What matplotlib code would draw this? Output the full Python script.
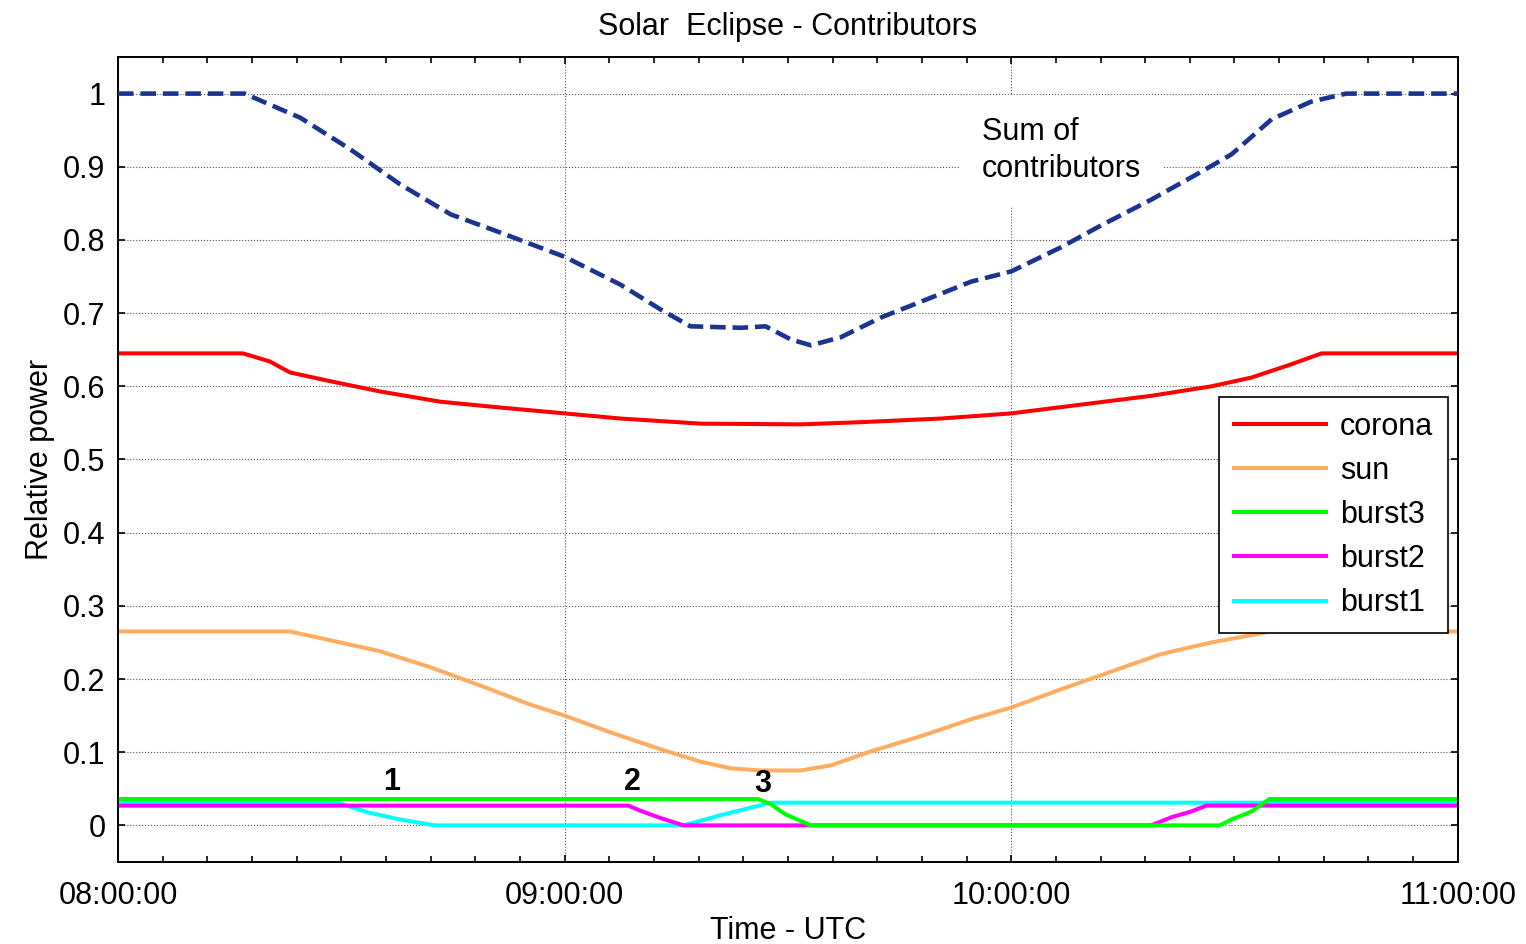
import matplotlib
matplotlib.use("Agg")
import matplotlib.pyplot as plt
from matplotlib.ticker import MultipleLocator

plt.rcParams['font.family'] = ['Liberation Sans', 'DejaVu Sans']

# time in minutes after 08:00 UTC
sum_t = [0, 17, 24.5, 31.2, 37.9, 44.7, 51.4, 60, 67.5, 72.9, 76.9, 83.7, 87,
         90.4, 93.1, 97.1, 102.5, 109.2, 114.6, 120, 126.7, 132.1, 138.8,
         145.5, 149.6, 155, 160.3, 165, 180]
sum_v = [1.0, 1.0, 0.967, 0.924, 0.876, 0.835, 0.81, 0.777, 0.739, 0.705,
         0.682, 0.68, 0.682, 0.664, 0.656, 0.667, 0.694, 0.721, 0.743, 0.757,
         0.79, 0.82, 0.855, 0.893, 0.917, 0.965, 0.989, 1.0, 1.0]

corona_t = [0, 16.8, 20.4, 23.1, 28.5, 35.2, 43.3, 51.4, 60, 67.5, 78.3, 91.7,
            99.8, 110.6, 120, 129.4, 138.8, 146.9, 152.3, 157.6, 161.7, 180]
corona_v = [0.645, 0.645, 0.634, 0.619, 0.607, 0.593, 0.579, 0.571, 0.563,
            0.556, 0.549, 0.548, 0.551, 0.556, 0.563, 0.575, 0.587, 0.6,
            0.612, 0.63, 0.645, 0.645]

sun_t = [0, 23.1, 28.5, 35.2, 42, 48.7, 55.4, 60, 66.2, 72.9, 78.3, 82.3, 86.3,
         91.7, 95.8, 101.1, 107.9, 114.6, 120, 126.7, 133.4, 140.1, 146.9,
         152.3, 155, 180]
sun_v = [0.265, 0.265, 0.253, 0.238, 0.216, 0.191, 0.165, 0.150, 0.127, 0.104,
         0.087, 0.078, 0.075, 0.075, 0.082, 0.101, 0.122, 0.145, 0.161, 0.186,
         0.21, 0.234, 0.25, 0.26, 0.265, 0.265]

burst3_t = [0, 86, 87.7, 89.7, 93.1, 148, 149.6, 152.3, 154.7, 180]
burst3_v = [0.036, 0.036, 0.029, 0.015, 0.0, 0.0, 0.008, 0.019, 0.036, 0.036]

burst2_t = [0, 68.6, 70.2, 72.9, 76, 138.8, 141.5, 144.2, 146.2, 180]
burst2_v = [0.027, 0.027, 0.02, 0.01, 0.0, 0.0, 0.011, 0.019, 0.027, 0.027]

burst1_t = [0, 29.5, 33.5, 37.9, 42.6, 76, 81.4, 87.7, 180]
burst1_v = [0.031, 0.031, 0.018, 0.008, 0.0, 0.0, 0.015, 0.031, 0.031]

hour_ticks = [0, 60, 120, 180]
hour_labels = ['08:00:00', '09:00:00', '10:00:00', '11:00:00']

fs = 22

fig = plt.figure(figsize=(15.26, 9.44), dpi=100)
ax = fig.add_axes([0.0773, 0.0869, 0.878, 0.8527])

lw = 2.9
ax.plot(burst1_t, burst1_v, color='#00ffff', lw=lw, label='burst1')
ax.plot(burst2_t, burst2_v, color='#ff00ff', lw=lw, label='burst2')
ax.plot(burst3_t, burst3_v, color='#00ff00', lw=lw, label='burst3')
ax.plot(sun_t, sun_v, color='#ffad60', lw=lw, label='sun')
ax.plot(corona_t, corona_v, color='#ff0000', lw=lw, label='corona')
ax.plot(sum_t, sum_v, color='#1c3490', lw=3.3, linestyle=(0, (3.4, 1.5)),
        zorder=3)

ax.set_xlim(0, 180)
ax.set_ylim(-0.05, 1.05)
ax.set_xticks(hour_ticks)
ax.set_xticklabels(hour_labels)
ax.xaxis.set_minor_locator(MultipleLocator(6))
ax.set_yticks([i / 10 for i in range(11)])
ax.set_yticklabels(['0', '0.1', '0.2', '0.3', '0.4', '0.5', '0.6', '0.7',
                    '0.8', '0.9', '1'])

ax.tick_params(axis='both', which='both', direction='in', top=True, right=True,
               labelsize=fs, width=1.2)
ax.tick_params(axis='both', which='major', length=5)
ax.tick_params(axis='x', which='minor', length=4)
ax.tick_params(axis='x', which='major', pad=14)
ax.tick_params(axis='y', which='major', pad=9)

ax.grid(True, which='major', color='#555555', linestyle=':', linewidth=0.8)
for s in ax.spines.values():
    s.set_linewidth(1.4)
    s.set_color('black')

ax.set_title('Solar  Eclipse - Contributors', fontsize=fs, pad=16)
ax.set_xlabel('Time - UTC', fontsize=fs, labelpad=3)
ax.set_ylabel('Relative power', fontsize=fs, labelpad=6)

# burst markers
for lab, t, v in [('1', 36.7, 0.059), ('2', 69.1, 0.059), ('3', 86.6, 0.056)]:
    ax.text(t, v, lab, fontsize=fs, fontweight='bold', ha='center', va='center')

ax.text(116.1, 0.922, 'Sum of\ncontributors', fontsize=fs, ha='left',
        va='center', linespacing=1.3, zorder=2.5,
        bbox=dict(facecolor='white', edgecolor='none', pad=16))

handles, labels = ax.get_legend_handles_labels()
order = [4, 3, 2, 1, 0]
leg = ax.legend([handles[i] for i in order], [labels[i] for i in order],
                loc='upper right', bbox_to_anchor=(0.993, 0.578),
                borderaxespad=0, fontsize=fs, fancybox=False, framealpha=1,
                edgecolor='black', handlelength=3.0, handletextpad=0.45,
                labelspacing=0.46, borderpad=0.5)
leg.get_frame().set_linewidth(1.2)

fig.savefig('out.png', dpi=100)
